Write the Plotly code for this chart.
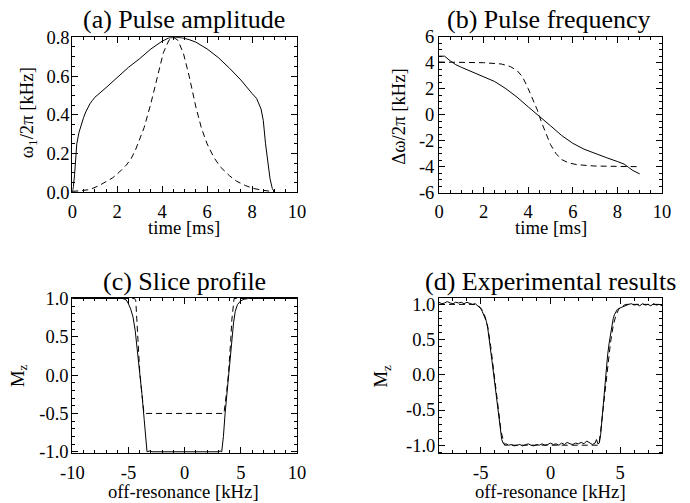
import plotly.graph_objects as go

# ---------------- data ----------------
# (a) Pulse amplitude  [kHz] vs time [ms]
a_t_solid = [0, 0.05, 0.1, 0.15, 0.2, 0.3, 0.4, 0.5, 0.6, 0.7, 0.8, 0.9, 1.0, 1.5, 2.0, 2.5, 3.0, 3.5, 4.0, 4.3, 4.6,
             4.9, 5.2, 5.5, 6.0, 6.5, 7.0, 7.5, 8.0, 8.2, 8.4, 8.5, 8.6, 8.7, 8.8, 8.9, 9.0]
a_solid = [0.0, 0.03, 0.09, 0.17, 0.25, 0.31, 0.35, 0.385, 0.415, 0.44, 0.46, 0.475, 0.49, 0.54, 0.595, 0.645, 0.69, 0.74,
           0.78, 0.797, 0.80, 0.797, 0.788, 0.775, 0.74, 0.695, 0.64, 0.58, 0.51, 0.485, 0.43, 0.37, 0.25, 0.15, 0.07, 0.02, 0.0]
a_t_dash = [0, 0.4, 0.8, 1.2, 1.5, 1.8, 2.1, 2.4, 2.6, 2.8, 2.95, 3.2, 3.5, 3.8, 4.05, 4.3, 4.5, 4.7, 4.95, 5.2, 5.5,
            5.75, 6.0, 6.3, 6.6, 7.0, 7.3, 7.7, 8.05, 8.5, 9.0]
a_dash = [0.005, 0.008, 0.015, 0.035, 0.055, 0.075, 0.105, 0.14, 0.17, 0.215, 0.26, 0.335, 0.46, 0.6, 0.72, 0.785, 0.80,
          0.785, 0.715, 0.6, 0.44, 0.33, 0.25, 0.18, 0.13, 0.085, 0.058, 0.035, 0.02, 0.01, 0.003]

# (b) Pulse frequency [kHz] vs time [ms]
b_t_solid = [0, 0.25, 0.5, 0.75, 1.0, 1.5, 2.0, 2.5, 3.0, 3.5, 4.0, 4.5, 5.0, 5.5, 6.0, 6.5, 7.0, 7.5, 8.0, 8.3, 8.5, 8.7, 9.0]
b_solid = [4.5, 4.5, 4.15, 3.85, 3.65, 3.3, 2.95, 2.55, 2.0, 1.35, 0.6, -0.1, -0.85, -1.6, -2.2, -2.65, -3.0, -3.3, -3.6,
           -3.8, -4.05, -4.3, -4.55]
b_t_dash = [0, 1, 2, 2.8, 3.2, 3.5, 3.75, 4.0, 4.2, 4.4, 4.6, 4.8, 5.0, 5.25, 5.5, 5.8, 6.2, 7, 8, 9]
b_dash = [4.05, 4.05, 4.0, 3.9, 3.7, 3.4, 2.9, 2.0, 1.2, 0.4, -0.6, -1.5, -2.3, -3.0, -3.45, -3.7, -3.85, -3.95, -4.0, -4.0]

# (c) Slice profile: Mz vs off-resonance [kHz]
c_f_solid = [-10, -6, -5.5, -5.2, -5.0, -4.8, -4.6, -4.4, -4.2, -4.0, -3.8, -3.6, -3.45, -3.35, -3.1, -2.9, 3.0, 3.15,
             3.3, 3.45, 3.6, 3.75, 3.9, 4.05, 4.2, 4.35, 4.5, 4.7, 5.0, 5.3, 5.7, 10]
c_solid = [1.0, 1.0, 1.0, 0.98, 0.93, 0.86, 0.76, 0.58, 0.32, 0.05, -0.25, -0.58, -0.85, -1.0, -0.99, -1.0, -1.0, -0.99,
           -1.0, -0.8, -0.5, -0.25, 0.0, 0.24, 0.48, 0.68, 0.83, 0.92, 0.97, 0.99, 1.0, 1.0]
c_f_dash = [-10, -4.45, -4.35, -4.28, -4.22, -4.1, -4.0, -3.85, -3.7, -3.62, 3.5, 3.6, 3.75, 3.9, 4.0, 4.1, 4.2, 4.3, 4.4, 10]
c_dash = [1.0, 1.0, 0.97, 0.8, 0.5, 0.2, 0.05, -0.18, -0.42, -0.5, -0.5, -0.4, -0.2, 0.02, 0.2, 0.45, 0.72, 0.92, 1.0, 1.0]

# (d) Experimental results: Mz vs off-resonance [kHz]
d_f_solid = [-8.0, -7.8, -7.6, -7.4, -7.2, -7.0, -6.8, -6.6, -6.4, -6.2, -6.0, -5.8, -5.6, -5.4, -5.2,
             -5.1, -5.0, -4.9, -4.8, -4.7, -4.6, -4.5, -4.4, -4.3, -4.2, -4.1, -4.0, -3.9, -3.8, -3.7, -3.6, -3.5, -3.4, -3.3,
             -3.2, -3.0, -2.8, -2.6, -2.4, -2.2, -2.0, -1.8, -1.6, -1.4, -1.2, -1.0, -0.8, -0.6, -0.4, -0.2, 0.0,
             0.2, 0.4, 0.6, 0.8, 1.0, 1.2, 1.4, 1.6, 1.8, 2.0, 2.2, 2.4, 2.6, 2.8, 3.0, 3.2, 3.3, 3.4,
             3.5, 3.6, 3.7, 3.8, 3.9, 4.0, 4.1, 4.2, 4.3, 4.4, 4.5, 4.6, 4.7, 4.8, 5.0, 5.2, 5.4, 5.6,
             5.8, 6.0, 6.2, 6.4, 6.6, 6.8, 7.0, 7.2, 7.4, 7.6, 7.8, 8.0]
d_solid = [1.03, 1.01, 1.02, 1.04, 1.02, 1.01, 1.03, 1.02, 1.03, 1.01, 1.03, 1.02, 1.0, 1.01, 0.98,
           0.96, 0.94, 0.9, 0.86, 0.82, 0.76, 0.66, 0.53, 0.36, 0.2, 0.04, -0.12, -0.28, -0.46, -0.64, -0.8, -0.92, -0.97, -0.99,
           -0.98, -1.0, -0.99, -1.01, -1.0, -0.99, -1.01, -1.0, -0.98, -1.0, -1.01, -0.99, -1.0, -0.98, -1.0, -0.99, -0.97,
           -0.99, -0.98, -1.0, -0.97, -0.99, -0.96, -0.98, -0.99, -0.97, -0.98, -0.96, -0.98, -0.94, -0.97, -0.99, -0.97, -0.92, -0.98,
           -0.97, -0.85, -0.62, -0.32, -0.08, 0.12, 0.28, 0.44, 0.58, 0.7, 0.8, 0.86, 0.9, 0.93, 0.95, 0.97, 0.99, 1.0,
           1.01, 0.99, 1.0, 0.98, 1.01, 0.99, 1.0, 0.98, 1.01, 0.99, 1.0, 0.98]
d_f_dash = [-8, -5.4, -5.1, -4.9, -4.7, -4.5, -4.3, -4.1, -3.9, -3.7, -3.55, -3.4, -3.3, 3.4, 3.5, 3.6, 3.75, 3.9,
            4.1, 4.3, 4.5, 4.7, 4.9, 5.1, 5.4, 8]
d_dash = [1.0, 1.0, 0.97, 0.92, 0.83, 0.68, 0.42, 0.12, -0.2, -0.55, -0.8, -0.95, -1.0, -1.0, -0.95, -0.8, -0.52, -0.2,
          0.15, 0.45, 0.7, 0.85, 0.93, 0.97, 1.0, 1.0]

# tick labels
a_xticks = [0, 2, 4, 6, 8, 10]
a_xtext = ["0", "2", "4", "6", "8", "10"]
a_yticks = [0.0, 0.2, 0.4, 0.6, 0.8]
a_ytext = ["0.0", "0.2", "0.4", "0.6", "0.8"]
b_yticks = [-6, -4, -2, 0, 2, 4, 6]
b_ytext = ["-6", "-4", "-2", "0", "2", "4", "6"]
c_xticks = [-10, -5, 0, 5, 10]
c_xtext = ["-10", "-5", "0", "5", "10"]
cd_yticks = [-1.0, -0.5, 0.0, 0.5, 1.0]
cd_ytext = ["-1.0", "-0.5", "0.0", "0.5", "1.0"]
d_xticks = [-5, 0, 5]
d_xtext = ["-5", "0", "5"]

titles = ["(a) Pulse amplitude", "(b) Pulse frequency", "(c) Slice profile", "(d) Experimental results"]

# ---------------- figure ----------------
W, H = 690, 503
FONT = "Liberation Serif, Times New Roman, DejaVu Serif, serif"
DASH = "6px,4px"


def px_x(p):
    return p / W


def px_y(p):
    return 1 - p / H


fig = go.Figure()
line_solid = dict(color="black", width=1)
line_dash = dict(color="black", width=1, dash=DASH)

fig.add_trace(go.Scatter(x=a_t_solid, y=a_solid, mode="lines", line=line_solid, xaxis="x", yaxis="y"))
fig.add_trace(go.Scatter(x=a_t_dash, y=a_dash, mode="lines", line=line_dash, xaxis="x", yaxis="y"))
fig.add_trace(go.Scatter(x=b_t_solid, y=b_solid, mode="lines", line=line_solid, xaxis="x2", yaxis="y2"))
fig.add_trace(go.Scatter(x=b_t_dash, y=b_dash, mode="lines", line=line_dash, xaxis="x2", yaxis="y2"))
fig.add_trace(go.Scatter(x=c_f_solid, y=c_solid, mode="lines", line=line_solid, xaxis="x3", yaxis="y3"))
fig.add_trace(go.Scatter(x=c_f_dash, y=c_dash, mode="lines", line=line_dash, xaxis="x3", yaxis="y3"))
fig.add_trace(go.Scatter(x=d_f_dash, y=d_dash, mode="lines", line=line_dash, xaxis="x4", yaxis="y4"))
fig.add_trace(go.Scatter(x=d_f_solid, y=d_solid, mode="lines", line=line_solid, xaxis="x4", yaxis="y4"))


def ax(domain, rng, tickvals, ticktext, minor_dtick, anchor, standoff):
    return dict(
        domain=domain, range=rng, anchor=anchor,
        tickmode="array", tickvals=tickvals, ticktext=ticktext,
        showline=True, linecolor="black", linewidth=1, mirror="allticks",
        ticks="inside", ticklen=6, tickwidth=1, tickcolor="black",
        ticklabelstandoff=standoff,
        automargin=False,
        showgrid=False, zeroline=False,
        tickfont=dict(family=FONT, size=18.5, color="black"),
        minor=dict(ticks="inside", ticklen=3, tickwidth=1, tickcolor="black", dtick=minor_dtick, showgrid=False),
    )


xl = [px_x(72.3), px_x(297)]
xr = [px_x(439), px_x(662)]
ytop_a = [px_y(192.3), px_y(37.3)]
ytop_b = [px_y(192.7), px_y(36.7)]
ybot = [px_y(453.3), px_y(297.7)]

fig.update_layout(
    width=W, height=H,
    autosize=False,
    margin=dict(l=0, r=0, t=0, b=0, pad=0, autoexpand=False),
    paper_bgcolor="white", plot_bgcolor="white",
    showlegend=False,
    font=dict(family=FONT, color="black"),
    xaxis=ax(xl, [0, 10], a_xticks, a_xtext, 0.5, "y", 2),
    yaxis=ax(ytop_a, [0.0, 0.8], a_yticks, a_ytext, 0.05, "x", -2),
    xaxis2=ax(xr, [0, 10], a_xticks, a_xtext, 0.5, "y2", 2),
    yaxis2=ax(ytop_b, [-6, 6], b_yticks, b_ytext, 0.5, "x2", 0),
    xaxis3=ax(xl, [-10, 10], c_xticks, c_xtext, 1, "y3", 2),
    yaxis3=ax(ybot, [-1.02, 1.01], cd_yticks, cd_ytext, 0.1, "x3", -1),
    xaxis4=ax(xr, [-8, 8], d_xticks, d_xtext, 1, "y4", 2),
    yaxis4=ax(ybot, [-1.115, 1.095], cd_yticks, cd_ytext, 0.1, "x4", -1),
)

ann = []
title_pos = [(184, 19), (549, 20), (184, 281), (550, 281)]
for t, (x, y) in zip(titles, title_pos):
    ann.append(dict(text=t, x=px_x(x), y=px_y(y), xref="paper", yref="paper", xanchor="center", yanchor="middle",
                    showarrow=False, font=dict(family=FONT, size=26, color="black")))
xt = [("time [ms]", 184.2, 227), ("time [ms]", 550.8, 227),
      ("off-resonance [kHz]", 183.8, 491.5), ("off-resonance [kHz]", 550, 491.5)]
for t, x, y in xt:
    ann.append(dict(text=t, x=px_x(x), y=px_y(y), xref="paper", yref="paper", xanchor="center", yanchor="middle",
                    showarrow=False, font=dict(family=FONT, size=18.7, color="black")))
yt = [("ω<sub>1</sub>/2π [kHz]", 27.5, 112.7), ("Δω/2π [kHz]", 399, 116.7),
      ("M<sub>z</sub>", 18.3, 375.8), ("M<sub>z</sub>", 381.7, 375.8)]
for t, x, y in yt:
    ann.append(dict(text=t, x=px_x(x), y=px_y(y), xref="paper", yref="paper", xanchor="center", yanchor="middle",
                    textangle=-90, showarrow=False, font=dict(family=FONT, size=18.7, color="black")))
fig.update_layout(annotations=ann)

fig.write_html(
    "out.html",
    config={"responsive": False, "displayModeBar": False},
    post_script="document.body.style.margin='0';document.body.style.overflow='hidden';",
)
